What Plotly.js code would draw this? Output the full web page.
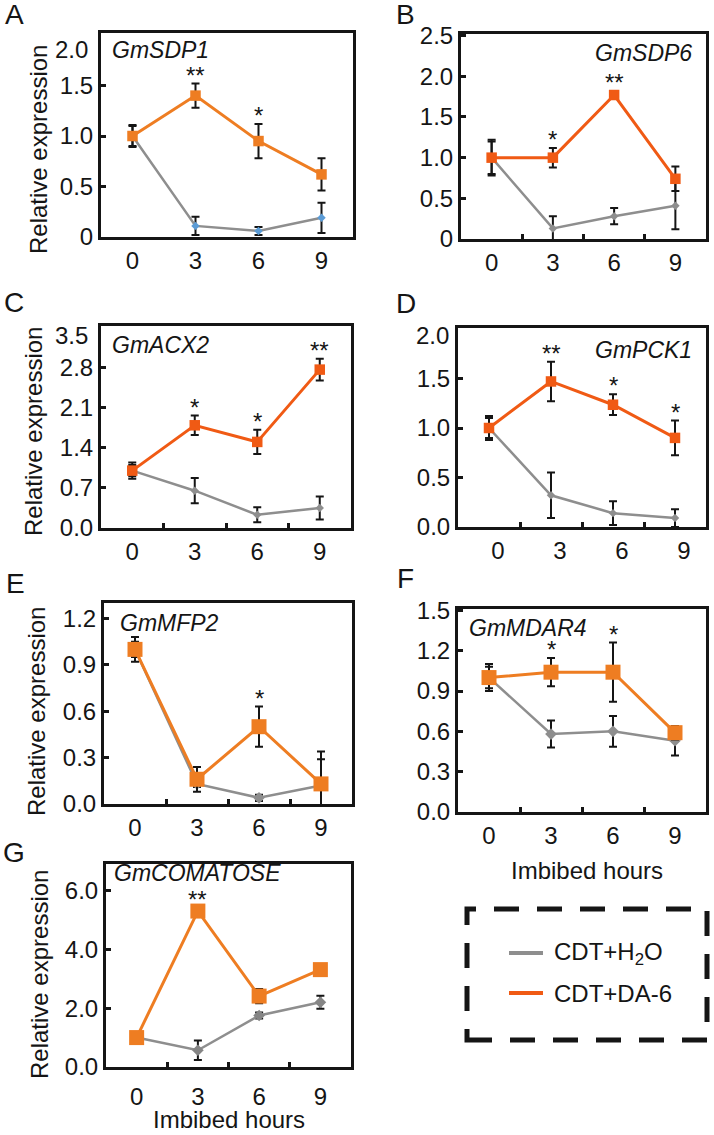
<!DOCTYPE html>
<html>
<head>
<meta charset="utf-8">
<script src="https://cdn.plot.ly/plotly-3.0.1.min.js"></script>
<style>
  html, body { margin: 0; padding: 0; background: #fff; }
  #chart { width: 714px; height: 1135px; }
</style>
</head>
<body>
<div id="chart"></div>
<script>
// Relative expression after imbibition, seven genes
const hours = ['0', '3', '6', '9'];
const seriesNames = ['CDT+H<sub>2</sub>O', 'CDT+DA-6'];
const genes = ['GmSDP1', 'GmSDP6', 'GmACX2', 'GmPCK1', 'GmMFP2', 'GmMDAR4', 'GmCOMATOSE'];
const panelLetters = ['A', 'B', 'C', 'D', 'E', 'F', 'G'];

// CDT+H2O, one row per gene
const h2oMean = [
    [1.00, 0.11, 0.06, 0.19],
    [1.00, 0.13, 0.28, 0.41],
    [1.00, 0.65, 0.23, 0.35],
    [1.00, 0.32, 0.14, 0.09],
    [1.00, 0.13, 0.04, 0.12],
    [1.00, 0.58, 0.60, 0.53],
    [1.00, 0.57, 1.75, 2.20]
];
const h2oErr = [
    [0.10, 0.09, 0.04, 0.15],
    [0.20, 0.15, 0.10, 0.29],
    [0.10, 0.22, 0.13, 0.20],
    [0.10, 0.23, 0.12, 0.09],
    [0.05, 0.02, 0.02, 0.17],
    [0.08, 0.10, 0.115, 0.11],
    [0.10, 0.33, 0.10, 0.22]
];

// CDT+DA-6, one row per gene
const da6Mean = [
    [1.00, 1.40, 0.95, 0.62],
    [1.00, 1.00, 1.77, 0.74],
    [1.00, 1.79, 1.50, 2.76],
    [1.00, 1.47, 1.235, 0.90],
    [1.00, 0.16, 0.50, 0.13],
    [1.00, 1.04, 1.04, 0.59],
    [1.00, 5.30, 2.41, 3.31]
];
const da6Err = [
    [0.11, 0.12, 0.17, 0.16],
    [0.22, 0.12, 0.05, 0.15],
    [0.14, 0.17, 0.21, 0.19],
    [0.12, 0.20, 0.105, 0.175],
    [0.08, 0.08, 0.13, 0.21],
    [0.10, 0.105, 0.22, 0.05],
    [0.10, 0.10, 0.24, 0.10]
];

// significance marks over the DA-6 series
const signif = [
    ['', '**', '*', ''],
    ['', '*', '**', ''],
    ['', '*', '*', '**'],
    ['', '**', '*', '*'],
    ['', '', '*', ''],
    ['', '*', '*', ''],
    ['', '**', '', '']
];

// y tick labels per panel
const yTickText = [
    ['0', '0.5', '1.0', '1.5', '2.0'],
    ['0', '0.5', '1.0', '1.5', '2.0', '2.5'],
    ['0.0', '0.7', '1.4', '2.1', '2.8', '3.5'],
    ['0.0', '0.5', '1.0', '1.5', '2.0'],
    ['0.0', '0.3', '0.6', '0.9', '1.2'],
    ['0.0', '0.3', '0.6', '0.9', '1.2', '1.5'],
    ['0.0', '2.0', '4.0', '6.0']
];

// ---- layout settings (pixels in the 714x1135 page) ----
const W = 714, H = 1135;
const FONT = 'Arial, "Liberation Sans", Helvetica, sans-serif';
const INK = '#151515';
const GRAY = '#8e8e8e';
const ORANGE = '#ee7d22';
const RED_ORANGE = '#f05a14';

// plot box [left, top, right, bottom]
const boxes = [
    [101, 33, 353, 237],
    [461, 34, 706, 239],
    [101, 326, 351, 528],
    [458, 328, 706, 527],
    [104, 603, 352, 804],
    [458, 609, 706, 812],
    [106, 864, 351, 1067]
];
const yMax = [2.02, 2.52, 3.52, 2.01, 1.30, 1.51, 6.9];
const orangeOf = [ORANGE, RED_ORANGE, RED_ORANGE, RED_ORANGE, ORANGE, ORANGE, ORANGE];
const diamondColor = ['#5b9bd5', GRAY, GRAY, GRAY, GRAY, GRAY, '#858585'];
const bigMarkers = [false, false, false, false, true, true, true];
const geneSide = ['left', 'right', 'left', 'right', 'left', 'left', 'left'];
const geneAt = [[110, 50], [694, 53], [110, 345], [694, 350], [118, 623], [467, 628], [112, 873]];
const letterAt = [[14, 15], [405, 15], [14, 302], [406, 303], [15, 583], [405, 578], [14, 852]];
const yTitleAt = [[38, 150], null, [33, 432], null, [37, 712], null, [39, 975]];
const xTitleAt = [null, null, null, null, null, [587, 870], null];
const topLabelDrop = [14, 0, 8, 7, 0, 0, 0];
const yLabelRight = [90, 454, 90, 451, 95, 451, 93];
const xLabelShift = [0, 0, 0, 9, 0, 0, 0];
const xLabelStandoff = [0, 0, 0, 0, 0, 0, 6];
const bottomTicks = [false, true, true, true, true, true, true];

const px = x => x / W;
const py = y => 1 - y / H;

const traces = [];
const annotations = [];
const shapes = [];
const layout = {
    width: W,
    height: H,
    margin: { l: 0, r: 0, t: 0, b: 0 },
    paper_bgcolor: '#fff',
    plot_bgcolor: '#fff',
    showlegend: false,
    font: { family: FONT, size: 24, color: INK },
    annotations: annotations,
    shapes: shapes
};

genes.forEach((gene, i) => {
    const n = i === 0 ? '' : String(i + 1);
    const b = boxes[i];
    const big = bigMarkers[i];

    traces.push({
        x: hours, y: h2oMean[i],
        xaxis: 'x' + n, yaxis: 'y' + n,
        mode: 'lines+markers',
        name: seriesNames[0],
        line: { color: GRAY, width: 2.5 },
        marker: { symbol: 'diamond', size: big ? 9 : 6.5, color: diamondColor[i] },
        error_y: { type: 'data', array: h2oErr[i], color: INK, thickness: 2, width: 4 }
    });
    traces.push({
        x: hours, y: da6Mean[i],
        xaxis: 'x' + n, yaxis: 'y' + n,
        mode: 'lines+markers',
        name: seriesNames[1],
        line: { color: orangeOf[i], width: 3 },
        marker: { symbol: 'square', size: big ? 15 : 10.5, color: orangeOf[i] },
        error_y: { type: 'data', array: da6Err[i], color: INK, thickness: 2, width: 4 }
    });

    let tickText = yTickText[i].slice();
    if (topLabelDrop[i] > 0) {
        // top label sits a little below the frame in the original figure
        const top = tickText.pop();
        annotations.push({
            xref: 'paper', yref: 'y' + n,
            x: px(yLabelRight[i]), y: Number(top),
            xanchor: 'right', yanchor: 'middle', yshift: -topLabelDrop[i],
            text: top, showarrow: false,
            font: { size: 24 }
        });
    }

    layout['xaxis' + n] = {
        domain: [px(b[0]), px(b[2])],
        anchor: 'y' + n,
        type: 'category',
        range: [-0.5, 3.5],
        showline: true, linewidth: 3, linecolor: INK, mirror: true,
        ticks: bottomTicks[i] ? 'inside' : '',
        tickson: 'boundaries',
        ticklen: 5, tickwidth: 3, tickcolor: INK,
        ticklabelshift: xLabelShift[i],
        ticklabelstandoff: xLabelStandoff[i],
        tickfont: { size: 24 },
        showgrid: false, zeroline: false, fixedrange: true
    };
    layout['yaxis' + n] = {
        domain: [py(b[3]), py(b[1])],
        anchor: 'x' + n,
        range: [0, yMax[i]],
        tickmode: 'array', tickvals: tickText.map(Number), ticktext: tickText,
        showline: true, linewidth: 3, linecolor: INK, mirror: true,
        ticks: 'inside', ticklen: 5, tickwidth: 3, tickcolor: INK,
        tickfont: { size: 24 },
        showgrid: false, zeroline: false, fixedrange: true
    };

    // asterisks over the error bars (x given as category index)
    signif[i].forEach((s, j) => {
        if (!s) return;
        annotations.push({
            xref: 'x' + n, yref: 'y' + n,
            x: j, y: da6Mean[i][j] + da6Err[i][j],
            xanchor: 'center', yanchor: 'bottom', yshift: -7,
            text: s, showarrow: false, font: { size: 24 }
        });
    });

    // gene name inside the frame
    annotations.push({
        xref: 'paper', yref: 'paper',
        x: px(geneAt[i][0]), y: py(geneAt[i][1]),
        xanchor: geneSide[i], yanchor: 'middle',
        text: '<i>' + gene + '</i>', showarrow: false, font: { size: 23 }
    });

    // panel letter
    annotations.push({
        xref: 'paper', yref: 'paper',
        x: px(letterAt[i][0]), y: py(letterAt[i][1]),
        xanchor: 'center', yanchor: 'middle',
        text: panelLetters[i], showarrow: false, font: { size: 28 }
    });

    if (yTitleAt[i]) {
        annotations.push({
            xref: 'paper', yref: 'paper',
            x: px(yTitleAt[i][0]), y: py(yTitleAt[i][1]),
            xanchor: 'center', yanchor: 'middle', textangle: -90,
            text: 'Relative expression', showarrow: false, font: { size: 24 }
        });
    }
    if (xTitleAt[i]) {
        annotations.push({
            xref: 'paper', yref: 'paper',
            x: px(xTitleAt[i][0]), y: py(xTitleAt[i][1]),
            xanchor: 'center', yanchor: 'middle',
            text: 'Imbibed hours', showarrow: false, font: { size: 24 }
        });
    }
});

// bottom x title for panel G, kept inside the page
annotations.push({
    xref: 'paper', yref: 'paper',
    x: px(229), y: 0,
    xanchor: 'center', yanchor: 'bottom',
    text: 'Imbibed hours', showarrow: false, font: { size: 24 }
});

// legend: dashed box with two line samples
shapes.push({
    type: 'rect', xref: 'paper', yref: 'paper',
    x0: px(467), x1: px(707), y0: py(1040), y1: py(909),
    line: { color: INK, width: 5, dash: '25px,18px' }
});
const legendColors = [GRAY, RED_ORANGE];
const legendRows = [953, 993];
seriesNames.forEach((name, k) => {
    shapes.push({
        type: 'line', xref: 'paper', yref: 'paper',
        x0: px(509), x1: px(543), y0: py(legendRows[k]), y1: py(legendRows[k]),
        line: { color: legendColors[k], width: 4 }
    });
    annotations.push({
        xref: 'paper', yref: 'paper',
        x: px(552), y: py(legendRows[k]),
        xanchor: 'left', yanchor: 'middle',
        text: name, showarrow: false, font: { size: 24 }
    });
});

Plotly.newPlot('chart', traces, layout, { staticPlot: true, displayModeBar: false });
</script>
</body>
</html>
